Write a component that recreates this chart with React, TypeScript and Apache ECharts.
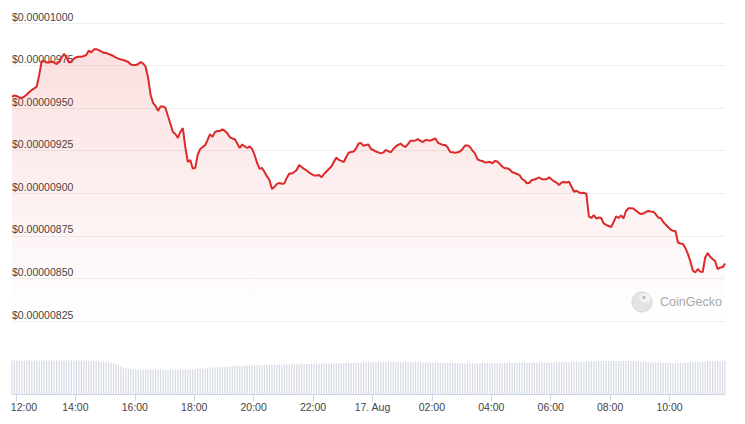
import React, { useEffect, useRef } from "react";
import * as echarts from "echarts";

// Price in units of $0.00000001 (1e-8 USD), sampled every 5 minutes from 16 Aug 11:52
const priceStartTime = new Date(2024, 7, 16, 11, 52).getTime();
const priceStepMinutes = 5;
const priceE8 = [
  956.8, 957.4, 957.0, 956.3, 956.0, 956.8, 958.0, 959.5, 960.7, 961.6,
  962.7, 969.5, 977.7, 977.6, 976.8, 976.8, 977.4, 976.8, 975.9, 977.1,
  979.7, 981.8, 980.0, 976.8, 977.4, 979.1, 980.0, 980.2, 980.2, 980.6,
  981.2, 983.8, 982.7, 984.4, 984.7, 984.1, 983.3, 982.5, 982.4, 981.9,
  981.2, 980.6, 979.7, 979.1, 978.6, 978.3, 977.7, 977.1, 975.6, 975.3,
  975.3, 975.9, 977.1, 976.2, 974.2, 967.7, 957.7, 953.0, 951.3, 948.5,
  951.0, 951.0, 950.1, 945.4, 940.7, 936.0, 934.8, 932.5, 936.0, 938.3,
  927.2, 918.4, 919.6, 914.6, 914.9, 922.5, 926.0, 927.2, 928.1, 931.3,
  934.8, 933.1, 936.0, 936.6, 936.6, 937.5, 936.6, 935.2, 932.9, 932.2,
  931.7, 929.2, 926.6, 928.7, 927.5, 926.6, 927.5, 926.0, 922.5, 917.8,
  914.3, 914.9, 912.5, 909.9, 907.8, 902.5, 903.7, 905.5, 906.0, 905.6,
  905.8, 909.0, 911.6, 911.6, 912.5, 913.7, 916.6, 915.4, 914.3, 913.4,
  912.2, 911.3, 910.5, 910.5, 910.7, 909.4, 911.3, 912.8, 914.3, 915.7,
  918.4, 921.0, 919.6, 919.0, 918.4, 921.3, 923.8, 924.3, 924.5, 926.4,
  929.2, 929.5, 927.8, 928.4, 928.7, 926.0, 925.4, 924.5, 924.0, 923.4,
  924.0, 925.4, 924.8, 924.1, 926.0, 927.5, 928.4, 929.2, 927.8, 927.2,
  929.0, 930.9, 930.9, 931.0, 931.8, 930.7, 930.1, 931.3, 931.1, 930.9,
  931.6, 932.3, 929.8, 929.0, 928.4, 928.4, 926.9, 924.3, 924.1, 923.8,
  924.1, 924.5, 926.0, 928.0, 928.1, 927.2, 925.1, 923.4, 920.0, 919.3,
  919.0, 918.1, 918.2, 918.5, 917.6, 919.0, 918.7, 917.3, 915.7, 914.7,
  914.7, 914.0, 912.5, 911.9, 911.3, 910.7, 908.4, 907.5, 905.9, 906.2,
  907.8, 908.1, 908.7, 909.3, 908.2, 908.2, 908.3, 909.4, 908.1, 907.0,
  906.2, 904.9, 906.3, 906.6, 906.3, 906.8, 904.0, 900.9, 901.5, 900.5,
  900.2, 900.3, 899.6, 886.6, 885.5, 887.2, 885.2, 885.8, 885.5, 882.3,
  881.4, 880.8, 880.2, 883.1, 886.4, 885.5, 887.0, 885.2, 889.6, 891.2,
  891.2, 891.1, 889.8, 888.7, 887.8, 888.1, 889.0, 889.6, 889.3, 889.2,
  887.8, 885.8, 885.5, 883.3, 881.7, 880.2, 878.7, 878.0, 877.9, 871.1,
  870.5, 870.2, 867.9, 864.4, 860.2, 854.7, 853.5, 855.5, 854.0, 853.8,
  862.3, 864.9, 862.7, 861.4, 860.2, 855.5, 856.4, 856.5, 858.8,
];

// Trading volume (relative units), one bar every 5 minutes from 16 Aug 11:52
const volumeStepMinutes = 5;
const volume = [
  99, 98, 99, 97, 96, 98, 99, 99, 98, 99, 99, 98,
  99, 99, 98, 99, 99, 98, 99, 99, 98, 99, 99, 99,
  99, 98, 99, 99, 99, 98, 99, 97, 98, 97, 96, 96,
  95, 95, 94, 93, 92, 90, 88, 85, 82, 78, 76, 74,
  74, 73, 73, 72, 72, 72, 72, 72, 72, 71, 72, 72,
  72, 72, 71, 72, 71, 71, 71, 72, 71, 71, 72, 72,
  72, 73, 73, 74, 75, 75, 76, 76, 77, 78, 78, 79,
  79, 80, 80, 81, 81, 81, 82, 82, 83, 83, 83, 84,
  84, 84, 84, 85, 85, 85, 85, 85, 86, 86, 86, 86,
  86, 87, 87, 87, 87, 87, 88, 87, 88, 88, 88, 88,
  88, 89, 89, 89, 89, 89, 89, 90, 89, 90, 90, 90,
  90, 91, 91, 91, 91, 91, 92, 92, 92, 92, 93, 93,
  93, 93, 93, 94, 93, 93, 94, 93, 94, 94, 94, 94,
  94, 93, 94, 94, 94, 94, 94, 93, 94, 93, 93, 93,
  93, 93, 93, 92, 92, 93, 92, 92, 91, 91, 91, 91,
  91, 90, 90, 90, 90, 90, 90, 90, 90, 90, 91, 91,
  91, 91, 91, 91, 91, 91, 91, 91, 91, 92, 92, 92,
  92, 92, 92, 92, 92, 92, 93, 93, 93, 93, 93, 93,
  93, 93, 93, 93, 94, 94, 94, 94, 94, 94, 94, 95,
  95, 95, 95, 95, 95, 96, 96, 96, 96, 97, 97, 97,
  97, 97, 97, 97, 97, 97, 97, 97, 97, 97, 97, 96,
  96, 95, 95, 94, 94, 94, 93, 93, 93, 93, 92, 92,
  92, 92, 92, 91, 91, 91, 92, 92, 93, 93, 93, 93,
  94, 94, 94, 95, 95, 96, 96, 96, 97, 97, 98, 98,
  99,
];

// X tick labels, every 2 hours starting 16 Aug 12:00
const firstTickTime = new Date(2024, 7, 16, 12, 0).getTime();
const tickStepHours = 2;
const tickLabels = [
  "12:00", "14:00", "16:00", "18:00", "20:00", "22:00",
  "17. Aug", "02:00", "04:00", "06:00", "08:00", "10:00",
];

// Y axis range (units of 1e-8 USD)
const yMin = 825;
const yMax = 1000;
const yStep = 25;

const MIN = 60 * 1000;
const HOUR = 60 * MIN;

export default function App() {
  const ref = useRef<HTMLDivElement>(null);

  useEffect(() => {
    if (!ref.current) return;
    const chart = echarts.init(ref.current, null, { renderer: "svg" });

    const priceData = priceE8.map((v, i) => [priceStartTime + i * priceStepMinutes * MIN, v]);
    const volumeData = volume.map((v, i) => [priceStartTime + i * volumeStepMinutes * MIN, v]);
    const tMin = priceStartTime;
    const tMax = priceStartTime + (priceE8.length - 1) * priceStepMinutes * MIN;
    const tickTimes = tickLabels.map((_, i) => firstTickTime + i * tickStepHours * HOUR);

    const font = "'Liberation Sans', Arial, sans-serif";
    const labelColor = "#444";
    const axisBlue = "#ccd6eb";

    chart.setOption({
      animation: false,
      grid: [
        { left: 12, right: 20, top: 23, height: 298 },
        { left: 12, right: 20, top: 360, height: 34 },
      ],
      xAxis: [
        {
          type: "value",
          gridIndex: 0,
          min: tMin,
          max: tMax,
          show: false,
          splitLine: { show: false },
        },
        {
          type: "value",
          gridIndex: 1,
          min: tMin,
          max: tMax,
          splitLine: { show: false },
          axisLine: { show: true, lineStyle: { color: axisBlue, width: 1 } },
          axisTick: {
            show: true,
            customValues: tickTimes,
            length: 7,
            lineStyle: { color: axisBlue, width: 1 },
          },
          axisLabel: {
            customValues: tickTimes,
            color: labelColor,
            fontSize: 10.5,
            fontFamily: font,
            margin: 7,
            showMinLabel: true,
            showMaxLabel: true,
            formatter: (val: number) => {
              const idx = tickTimes.indexOf(val);
              const label = idx >= 0 ? tickLabels[idx] : "";
              return idx === 0 ? "{first|" + label + "}" : label;
            },
            rich: {
              first: {
                padding: [0, 0, 0, 16],
                color: labelColor,
                fontSize: 10.5,
                fontFamily: font,
              },
            },
          },
        },
      ],
      yAxis: [
        {
          type: "value",
          gridIndex: 0,
          min: yMin,
          max: yMax,
          interval: yStep,
          axisLine: { show: false },
          axisTick: { show: false },
          splitLine: { show: true, lineStyle: { color: "#efefef", width: 1 } },
          axisLabel: {
            inside: true,
            margin: 0,
            verticalAlign: "bottom",
            lineHeight: 13,
            color: labelColor,
            fontSize: 10.5,
            fontFamily: font,
            formatter: (v: number) => "$" + (v * 1e-8).toFixed(8),
          },
        },
        {
          type: "value",
          gridIndex: 1,
          min: 0,
          max: 100,
          show: false,
          splitLine: { show: false },
        },
      ],
      series: [
        {
          type: "line",
          xAxisIndex: 0,
          yAxisIndex: 0,
          data: priceData,
          showSymbol: false,
          symbol: "none",
          z: 3,
          lineStyle: { color: "#dc2a2a", width: 2 },
          areaStyle: {
            color: new echarts.graphic.LinearGradient(0, 0, 0, 1, [
              { offset: 0, color: "rgba(224, 40, 40, 0.21)" },
              { offset: 1, color: "rgba(224, 40, 40, 0.0)" },
            ]),
          },
        },
        {
          type: "bar",
          xAxisIndex: 1,
          yAxisIndex: 1,
          data: volumeData,
          barWidth: 1.2,
          itemStyle: { color: "#d5d9e3" },
        },
      ],
      graphic: [
        {
          type: "circle",
          shape: { cx: 642, cy: 302, r: 10 },
          style: { fill: "#e4e4e4", stroke: "#d6d6d6", lineWidth: 1 },
          z: 10,
        },
        {
          type: "ellipse",
          shape: { cx: 645, cy: 298, rx: 5.5, ry: 4.5 },
          style: { fill: "#f3f3f3" },
          z: 11,
        },
        {
          type: "circle",
          shape: { cx: 644, cy: 297.5, r: 1.6 },
          style: { fill: "#b9b9b9" },
          z: 12,
        },
        {
          type: "text",
          x: 660,
          y: 302,
          z: 10,
          style: {
            text: "CoinGecko",
            fill: "#a9a9a9",
            fontSize: 12.5,
            fontFamily: font,
            verticalAlign: "middle",
            align: "left",
          },
        },
      ],
    });

    return () => chart.dispose();
  }, []);

  return (
    <div
      ref={ref}
      style={{ position: "absolute", left: 0, top: 0, width: 745, height: 424 }}
    />
  );
}
